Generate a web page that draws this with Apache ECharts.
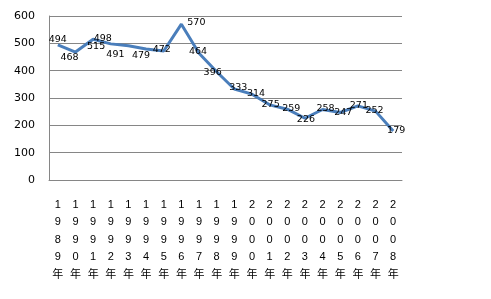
<!DOCTYPE html>
<html><head><meta charset="utf-8">
<script src="https://cdn.jsdelivr.net/npm/echarts@6/dist/echarts.min.js"></script>
<style>html,body{margin:0;padding:0;background:#fff}#c{width:491px;height:299px}</style>
</head><body><div id="c"></div>
<script>
const years = ["1989","1990","1991","1992","1993","1994","1995","1996","1997","1998","1999","2000","2001","2002","2003","2004","2005","2006","2007","2008"];
const values = [494,468,515,498,491,479,472,570,464,396,333,314,275,259,226,258,247,271,252,179];
const yTicks = [0,100,200,300,400,500,600];
const labelOffsets = [[0,-5],[-6,5],[3,7],[-8,-5],[-13,9],[-5,6],[-2,-1],[15,-2],[-1,-2],[-4,1],[4,-1],[4,-1],[1,0],[4,-1],[1,1],[3,-1],[3,0],[1,0],[-1,-1],[3,-1]];

const chart = echarts.init(document.getElementById('c'), null, {renderer:'canvas'});
chart.setOption({
  animation:false,
  backgroundColor:'#fff',
  grid:{left:49,right:89,top:16,bottom:119},
  xAxis:{
    type:'category',
    data:years.map(y=>y.split('').join('\n')+'\n年'),
    boundaryGap:true,
    axisLine:{show:true,lineStyle:{color:'#868686',width:1}},
    axisTick:{show:false},
    axisLabel:{interval:0,margin:16,fontSize:11,lineHeight:17.5,color:'#000',
      fontFamily:'"Liberation Sans","Noto Sans CJK SC",sans-serif'}
  },
  yAxis:{
    type:'value',min:yTicks[0],max:yTicks[yTicks.length-1],interval:100,
    axisLine:{show:true,lineStyle:{color:'#868686',width:1}},
    axisTick:{show:false},
    splitLine:{show:true,lineStyle:{color:'#868686',width:1}},
    axisLabel:{margin:14,fontSize:11,color:'#000',fontFamily:'"DejaVu Sans",sans-serif'}
  },
  series:[{
    type:'line',
    data:values.map((v,i)=>({value:v,label:{offset:labelOffsets[i]}})),
    showSymbol:true,symbol:'circle',symbolSize:0,
    lineStyle:{color:'#4A7EBB',width:3},
    itemStyle:{color:'#4A7EBB'},
    label:{show:true,position:'inside',color:'#000',fontSize:9.5,
      fontFamily:'"DejaVu Sans",sans-serif'}
  }]
});
</script></body></html>
